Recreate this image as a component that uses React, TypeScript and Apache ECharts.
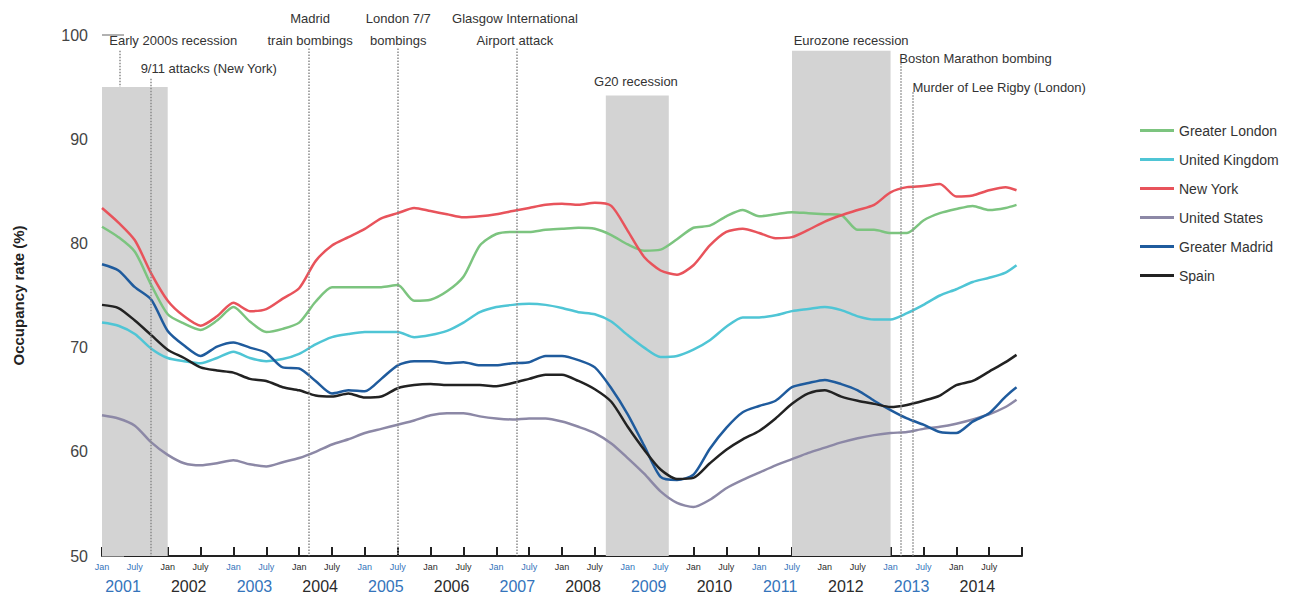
import React, { useEffect, useRef } from "react";
import * as echarts from "echarts";

// Month index: 0 = Jan 2001, 167 = Dec 2014 (quarterly readings)
const months = [
  0, 3, 6, 9, 12, 15, 18, 21, 24, 27, 30, 33, 36, 39, 42, 45, 48, 51, 54, 57,
  60, 63, 66, 69, 72, 75, 78, 81, 84, 87, 90, 93, 96, 99, 102, 105, 108, 111,
  114, 117, 120, 123, 126, 129, 132, 135, 138, 141, 144, 147, 150, 153, 156,
  159, 162, 165, 167,
];

const greaterLondon = [
  81.6, 80.6, 79.2, 76.0, 73.2, 72.3, 71.7, 72.6, 73.9, 72.5, 71.5, 71.8, 72.4,
  74.4, 75.8, 75.8, 75.8, 75.8, 76.0, 74.5, 74.6, 75.4, 76.8, 79.8, 80.9, 81.1,
  81.1, 81.3, 81.4, 81.5, 81.4, 80.8, 79.9, 79.3, 79.4, 80.4, 81.5, 81.7, 82.6,
  83.2, 82.6, 82.8, 83.0, 82.9, 82.8, 82.7, 81.3, 81.3, 81.0, 81.0, 82.2, 82.9,
  83.3, 83.6, 83.2, 83.4, 83.7,
];
const unitedKingdom = [
  72.4, 72.1, 71.3, 69.9, 69.0, 68.7, 68.5, 69.0, 69.6, 69.0, 68.7, 68.9, 69.4,
  70.3, 71.0, 71.3, 71.5, 71.5, 71.5, 71.0, 71.2, 71.6, 72.4, 73.4, 73.9, 74.1,
  74.2, 74.1, 73.8, 73.4, 73.2, 72.5, 71.2, 70.0, 69.1, 69.2, 69.8, 70.7, 72.0,
  72.9, 72.9, 73.1, 73.5, 73.7, 73.9, 73.6, 73.0, 72.7, 72.7, 73.3, 74.1, 75.0,
  75.6, 76.3, 76.7, 77.2, 77.9,
];
const newYork = [
  83.4, 82.0, 80.3, 77.1, 74.5, 73.0, 72.1, 73.0, 74.3, 73.5, 73.7, 74.7, 75.7,
  78.3, 79.8, 80.6, 81.4, 82.4, 82.9, 83.4, 83.1, 82.8, 82.5, 82.6, 82.8, 83.1,
  83.4, 83.7, 83.8, 83.7, 83.9, 83.6, 81.2, 78.7, 77.4, 77.0, 77.9, 79.8, 81.1,
  81.4, 81.0, 80.5, 80.6, 81.3, 82.1, 82.7, 83.2, 83.7, 84.9, 85.4, 85.5, 85.7,
  84.5, 84.6, 85.1, 85.4, 85.1,
];
const unitedStates = [
  63.5, 63.2, 62.5, 60.9, 59.7, 58.9, 58.7, 58.9, 59.2, 58.8, 58.6, 59.0, 59.4,
  60.0, 60.7, 61.2, 61.8, 62.2, 62.6, 63.0, 63.5, 63.7, 63.7, 63.4, 63.2, 63.1,
  63.2, 63.2, 62.9, 62.4, 61.8, 60.8, 59.4, 57.9, 56.2, 55.1, 54.7, 55.4, 56.5,
  57.3, 58.0, 58.7, 59.3, 59.9, 60.4, 60.9, 61.3, 61.6, 61.8, 61.9, 62.2, 62.4,
  62.7, 63.1, 63.6, 64.3, 65.0,
];
const greaterMadrid = [
  78.0, 77.4, 75.8, 74.6, 71.6, 70.2, 69.2, 70.1, 70.5, 70.0, 69.5, 68.1, 68.0,
  66.8, 65.6, 65.9, 65.8, 67.0, 68.3, 68.7, 68.7, 68.5, 68.6, 68.3, 68.3, 68.5,
  68.6, 69.2, 69.2, 68.8, 68.1, 66.1, 63.6, 60.6, 57.6, 57.3, 57.8, 60.3, 62.3,
  63.8, 64.4, 64.9, 66.2, 66.6, 66.9, 66.5, 65.9, 64.9, 64.0, 63.2, 62.6, 61.9,
  61.8, 62.9, 63.7, 65.3, 66.2,
];
const spain = [
  74.1, 73.8, 72.6, 71.2, 69.8, 69.0, 68.1, 67.8, 67.6, 67.0, 66.8, 66.2, 65.9,
  65.4, 65.3, 65.6, 65.2, 65.3, 66.1, 66.4, 66.5, 66.4, 66.4, 66.4, 66.3, 66.6,
  67.0, 67.4, 67.4, 66.8, 66.0, 64.8, 62.4, 60.2, 58.3, 57.4, 57.5, 58.9, 60.2,
  61.2, 62.0, 63.2, 64.6, 65.6, 65.9, 65.3, 64.9, 64.6, 64.3, 64.5, 64.9, 65.4,
  66.4, 66.8, 67.7, 68.6, 69.3,
];

const seriesNames = [
  "Greater London",
  "United Kingdom",
  "New York",
  "United States",
  "Greater Madrid",
  "Spain",
];
const seriesValues = [greaterLondon, unitedKingdom, newYork, unitedStates, greaterMadrid, spain];
const seriesColors = ["#7cc47f", "#4fc5d5", "#e8535b", "#8c88a6", "#1f5b9d", "#222222"];

// Recession bands: start month, end month, top value
const recessionStart = [0, 92, 126];
const recessionEnd = [12, 103.5, 144];
const recessionTop = [95, 94.2, 98.5];

// Dotted event lines: month, top value, bottom value
const eventMonth = [3.3, 8.9, 37.8, 54.05, 75.8, 145.9, 148.1];
const eventTop = [98.5, 95.8, 98.7, 98.7, 98.7, 97.3, 94.5];
const eventBottom = [95, 50, 50, 50, 50, 50, 50];

// Annotation texts: month, value, alignment
const noteText = [
  "Early 2000s recession",
  "9/11 attacks (New York)",
  "Madrid\ntrain bombings",
  "London 7/7\nbombings",
  "Glasgow International\nAirport attack",
  "G20 recession",
  "Eurozone recession",
  "Boston Marathon bombing",
  "Murder of Lee Rigby (London)",
];
const noteMonth = [13, 19.5, 38, 54.1, 75.4, 97.5, 136.8, 145.6, 148.0];
const noteValue = [99.5, 96.8, 100.5, 100.5, 100.5, 95.5, 99.5, 97.7, 95.0];
const noteAlign = ["center", "center", "center", "center", "center", "center", "center", "left", "left"];

const yearLabels = ["2001", "2002", "2003", "2004", "2005", "2006", "2007", "2008", "2009", "2010", "2011", "2012", "2013", "2014"];

const FONT = "'Liberation Sans', Arial, sans-serif";
const BLUE = "#3474bb";
const DARK = "#2b2b2b";

export default function App() {
  const ref = useRef<HTMLDivElement>(null);
  useEffect(() => {
    if (!ref.current) return;
    const chart = echarts.init(ref.current, undefined, { renderer: "svg" });

    const lineSeries = seriesNames.map((name, i) => ({
      name,
      type: "line",
      z: 3,
      data: months.map((m, j) => [m, seriesValues[i][j]]),
      showSymbol: false,
      symbol: "none",
      smooth: 0.25,
      lineStyle: { color: seriesColors[i], width: 2.5 },
      itemStyle: { color: seriesColors[i] },
    }));

    const option: any = {
      animation: false,
      backgroundColor: "#ffffff",
      textStyle: { fontFamily: FONT },
      grid: { left: 102, right: 274, top: 35, bottom: 45 },
      legend: {
        orient: "vertical",
        left: 1140,
        top: 122,
        padding: 0,
        icon: "rect",
        itemWidth: 34,
        itemHeight: 3,
        itemGap: 12,
        data: seriesNames,
        textStyle: { fontSize: 14, color: "#333", fontFamily: FONT, lineHeight: 17 },
      },
      xAxis: [
        {
          type: "value",
          min: 0,
          max: 168,
          interval: 6,
          axisLine: { lineStyle: { color: "#222", width: 2 } },
          axisTick: { inside: true, length: 9, lineStyle: { color: "#222", width: 2 } },
          splitLine: { show: false },
          axisLabel: {
            margin: 6,
            formatter: (v: number) => {
              if (v >= 168) return "";
              const yr = Math.floor(v / 12);
              const txt = v % 12 === 0 ? "Jan" : "July";
              return yr % 2 === 0 ? `{a|${txt}}` : `{b|${txt}}`;
            },
            rich: {
              a: { color: BLUE, fontSize: 9, fontFamily: FONT },
              b: { color: DARK, fontSize: 9, fontFamily: FONT },
            },
          },
        },
        {
          type: "value",
          min: 0,
          max: 168,
          interval: 12,
          position: "bottom",
          axisLine: { show: false },
          axisTick: { show: false },
          splitLine: { show: false },
          axisLabel: {
            margin: 22,
            formatter: (v: number) => {
              const yr = Math.round(v / 12);
              if (yr >= yearLabels.length) return "";
              return yr % 2 === 0 ? `{a|${yearLabels[yr]}}` : `{b|${yearLabels[yr]}}`;
            },
            rich: {
              a: { color: BLUE, fontSize: 16, fontFamily: FONT, padding: [0, 0, 0, 42] },
              b: { color: DARK, fontSize: 16, fontFamily: FONT, padding: [0, 0, 0, 42] },
            },
          },
        },
      ],
      yAxis: {
        type: "value",
        min: 50,
        max: 100,
        interval: 10,
        axisLine: { show: false },
        axisTick: { show: true, inside: true, length: 22, lineStyle: { color: "#999", width: 1.5 } },
        splitLine: { show: false },
        axisLabel: { fontSize: 16, color: "#444", margin: 14, fontFamily: FONT },
        name: "Occupancy rate (%)",
        nameLocation: "middle",
        nameRotate: 90,
        nameGap: 76,
        nameTextStyle: { fontSize: 15, fontWeight: "bold", color: "#222", fontFamily: FONT },
      },
      series: [
        {
          name: "_events",
          type: "line",
          data: [],
          z: 1,
          silent: true,
          markArea: {
            silent: true,
            itemStyle: { color: "#d3d3d3" },
            data: recessionStart.map((s, i) => [
              { xAxis: s, yAxis: 50 },
              { xAxis: recessionEnd[i], yAxis: recessionTop[i] },
            ]),
          },
          markLine: {
            silent: true,
            symbol: ["none", "none"],
            label: { show: false },
            lineStyle: { type: "dotted", color: "#8a8a8a", width: 1.5 },
            data: eventMonth.map((m, i) => [
              { coord: [m, eventTop[i]] },
              { coord: [m, eventBottom[i]] },
            ]),
          },
        },
        ...lineSeries,
      ],
    };
    chart.setOption(option);

    const graphics = noteText.map((text, i) => {
      const p = chart.convertToPixel({ xAxisIndex: 0, yAxisIndex: 0 }, [noteMonth[i], noteValue[i]]) as number[];
      return {
        type: "text",
        x: p[0],
        y: p[1],
        silent: true,
        style: {
          text,
          fill: "#333",
          fontSize: 13,
          fontFamily: FONT,
          lineHeight: 22,
          align: noteAlign[i],
          verticalAlign: "middle",
          textAlign: noteAlign[i],
          textVerticalAlign: "middle",
        },
      };
    });
    chart.setOption({ graphic: graphics });

    return () => chart.dispose();
  }, []);

  return (
    <div
      ref={ref}
      style={{ position: "fixed", left: 0, top: 0, width: 1296, height: 601, background: "#fff" }}
    />
  );
}
